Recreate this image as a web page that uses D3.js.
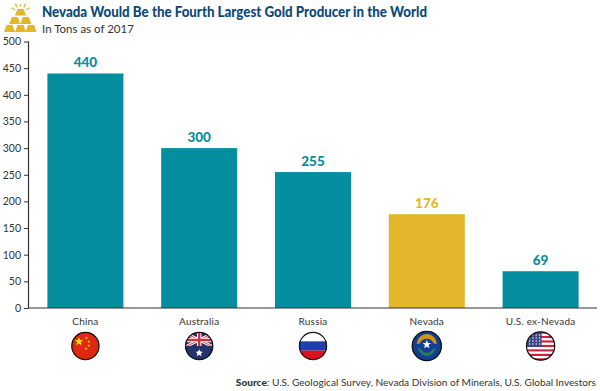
<!DOCTYPE html>
<html><head><meta charset="utf-8">
<script src="https://cdn.jsdelivr.net/npm/d3@7"></script>
<style>html,body{margin:0;padding:0;background:#fff}svg{display:block}text{font-family:Lato,sans-serif}</style>
</head><body><svg id="c" width="600" height="391"></svg>
<script>
const categories=["China","Australia","Russia","Nevada","U.S. ex-Nevada"];
const tons=[440,300,255,176,69];
const barColors=["#058DA0","#058DA0","#058DA0","#E3B72B","#058DA0"];
const labelColors=["#058DA0","#058DA0","#058DA0","#E3B72B","#058DA0"];
const yTicks=[0,50,100,150,200,250,300,350,400,450,500];
const titleText="Nevada Would Be the Fourth Largest Gold Producer in the World";
const subtitleText="In Tons as of 2017";
const sourceBold="Source";
const sourceRest=": U.S. Geological Survey, Nevada Division of Minerals, U.S. Global Investors";

const svg=d3.select("#c");
const x=d3.scaleBand().domain(categories).range([28.5,597.5]).paddingInner(.332).paddingOuter(.166);
const y=d3.scaleLinear().domain([0,500]).range([308,41.5]);

svg.selectAll("rect.bar").data(tons).join("rect").attr("class","bar")
 .attr("x",(d,i)=>x(categories[i])).attr("width",x.bandwidth())
 .attr("y",d=>y(d)).attr("height",d=>y(0)-y(d)).attr("fill",(d,i)=>barColors[i]);
svg.selectAll("text.val").data(tons).join("text").attr("class","val")
 .attr("x",(d,i)=>x(categories[i])+x.bandwidth()/2).attr("y",d=>y(d)-6.5)
 .attr("text-anchor","middle").attr("font-size",13.5).attr("font-weight",900)
 .attr("fill",(d,i)=>labelColors[i]).text(d=>d);

const ya=svg.append("g").attr("transform","translate(28.5,0)")
 .call(d3.axisLeft(y).tickValues(yTicks).tickSize(4.5).tickPadding(3));
ya.selectAll("path").attr("stroke","#333").attr("stroke-width",1.2).attr("d","M0,41.5V308");
ya.selectAll("line").attr("stroke","#333");
ya.selectAll("text").attr("font-size",10.5).attr("fill","#333").style("font-family","Lato,sans-serif");
const xa=svg.append("g").attr("transform","translate(0,308)")
 .call(d3.axisBottom(x).tickSize(0).tickPadding(6));
xa.select("path").attr("stroke","#333").attr("stroke-width",1.2).attr("d","M28.5,0H597");
xa.selectAll("text").attr("font-size",10).attr("fill","#333").style("font-family","Lato,sans-serif").attr("dy","1.1em").style("letter-spacing","0.2px");

svg.append("text").attr("x",42).attr("y",17).attr("font-size",15.5).attr("font-weight",900)
 .attr("fill","#0A4A7A").attr("textLength",385).attr("lengthAdjust","spacingAndGlyphs").text(titleText);
svg.append("text").attr("x",42).attr("y",32.5).attr("font-size",11.5).attr("fill","#333").text(subtitleText);
const s=svg.append("text").attr("x",596).attr("y",386).attr("text-anchor","end").attr("font-size",10.1).attr("fill","#333");
s.append("tspan").attr("font-weight",900).text(sourceBold);
s.append("tspan").text(sourceRest);

const logo=svg.append("g").attr("fill","#E3B72B");
const trap=(cx,by,w,h)=>logo.append("path").attr("d",`M${cx-w/2},${by}L${cx+w/2},${by}L${cx+w/2-2.5},${by-h}L${cx-w/2+2.5},${by-h}Z`);
trap(9.5,32,11,7);trap(20.5,32,11,7);trap(31,32,11,7);trap(14.8,24,11,7);trap(25.8,24,11,7);trap(20.5,15.5,11,6.5);
d3.range(5).forEach(i=>{const a=(-150+30*i)*Math.PI/180;
 logo.append("line").attr("x1",20.5+6.5*Math.cos(a)).attr("y1",13+6.5*Math.sin(a)).attr("x2",20.5+(i==2?9:10.5)*Math.cos(a)).attr("y2",13+(i==2?9:10.5)*Math.sin(a)).attr("stroke","#E3B72B").attr("stroke-width",1.3);});

const defs=svg.append("defs");
const radii=[14,14,14,15,14.5];
const flagY=346;
categories.forEach((c,i)=>{
 const R=radii[i];
 defs.append("clipPath").attr("id","f"+i).append("circle").attr("r",R);
 const outer=svg.append("g").attr("transform",`translate(${x(c)+x.bandwidth()/2},${flagY})`);
 const g=outer.append("g").attr("clip-path",`url(#f${i})`);
 const rect=(x0,y0,w,h,f)=>g.append("rect").attr("x",x0).attr("y",y0).attr("width",w).attr("height",h).attr("fill",f);
 const star=(cx,cy,r,f)=>g.append("path").attr("fill",f).attr("transform",`translate(${cx},${cy})`)
   .attr("d",d3.range(10).map(k=>{const rr=k%2?r*.42:r,a=-Math.PI/2+k*Math.PI/5;return (k?"L":"M")+rr*Math.cos(a)+","+rr*Math.sin(a)}).join("")+"Z");
 if(c==="China"){
  rect(-R,-R,2*R,2*R,"#DE2910");
  star(-6.5,-4.5,4.6,"#FFDE00");
  [[1,-8],[3.5,-4.5],[3.5,-0.5],[0.5,2.5]].forEach(p=>star(p[0],p[1],1.5,"#FFDE00"));
 } else if(c==="Australia"){
  rect(-R,-R,2*R,2*R,"#24336E");
  const u=(d,w,col)=>g.append("path").attr("d",d).attr("stroke",col).attr("stroke-width",w).attr("fill","none");
  u("M-14,-13L14,1M14,-13L-14,1",3,"#fff");
  u("M-14,-13L14,1M14,-13L-14,1",1,"#D22F3C");
  u("M0,-14V1.5M-14,-6H14",4.5,"#fff");
  u("M0,-14V1.5M-14,-6H14",2.4,"#D22F3C");
  rect(-R,0,2*R,14,"#24336E");
  star(0,7,4,"#fff");
  g.append("circle").attr("cy",7).attr("r",2).attr("fill","#fff");
 } else if(c==="Russia"){
  rect(-R,-R,2*R,R*2/3+.5,"#fff");
  rect(-R,-R/3,2*R,R*2/3,"#1C3FAA");
  rect(-R,R/3,2*R,R*2/3,"#E01020");
 } else if(c==="Nevada"){
  rect(-R,-R,2*R,2*R,"#123F96");
  g.append("path").attr("d","M-10,-2A10,10,0,0,1,10,-2L7,-2.5A7.5,7.5,0,0,0,-7,-2.5Z").attr("fill","#D8920F");
  g.append("path").attr("d","M-9,2Q-7,9,0,10Q7,9,9,2L6,3Q4,6.5,0,7Q-4,6.5,-6,3Z").attr("fill","#2E7A55");
  star(0,-1.5,4.5,"#fff");
 } else {
  d3.range(13).forEach(k=>rect(-R,-R+k*2*R/13,2*R,2*R/13+.2,k%2?"#fff":"#C8243C"));
  rect(-R,-R,R+1,R+1,"#3C4585");
  d3.range(4).forEach(a=>d3.range(4).forEach(b=>g.append("circle").attr("cx",-11+b*3.3).attr("cy",-11+a*3).attr("r",.7).attr("fill","#fff")));
 }
 outer.append("circle").attr("r",R-.4).attr("fill","none").attr("stroke","#111").attr("stroke-width",1.2);
});
</script></body></html>
